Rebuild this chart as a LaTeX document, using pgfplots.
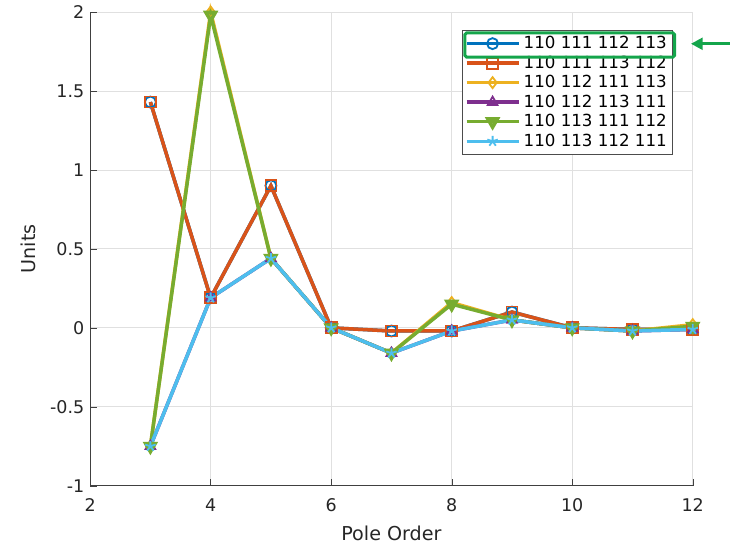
\documentclass[border=0pt]{standalone}
\usepackage{fontspec}
\setmainfont{DejaVu Sans}
\usepackage{pgfplots}
\pgfplotsset{compat=1.18}
\usetikzlibrary{arrows.meta}

\definecolor{mblue}{rgb}{0,0.447,0.741}
\definecolor{morange}{rgb}{0.85,0.325,0.098}
\definecolor{myellow}{rgb}{0.929,0.694,0.125}
\definecolor{mpurple}{rgb}{0.494,0.184,0.556}
\definecolor{mgreen}{rgb}{0.466,0.674,0.188}
\definecolor{mcyan}{rgb}{0.301,0.745,0.933}
\definecolor{annot}{RGB}{20,165,75}

\begin{document}
\begin{tikzpicture}
\begin{axis}[
    scale only axis,
    width=361.8pt, height=284.4pt,
    xmin=2, xmax=12, ymin=-1, ymax=2,
    xtick={2,4,...,12},
    ytick={-1,-0.5,0,0.5,1,1.5,2},
    axis x line*=bottom, axis y line*=left,
    axis line style={color=black!75, line width=0.5pt, -},
    tick align=inside,
    major tick length=4pt,
    tick style={color=black!75},
    grid=major,
    grid style={color=black!12, line width=0.5pt},
    font=\fontsize{10.5}{12}\selectfont,
    ticklabel style={font=\fontsize{10.5}{12}\selectfont, color=black!85},
    xticklabel style={yshift=-4pt},
    /pgf/number format/assume math mode=true,
    xlabel={Pole Order}, ylabel={Units},
    label style={font=\fontsize{11.5}{13}\selectfont, color=black!85},
    ylabel style={yshift=2pt},
    xlabel style={yshift=-2pt},
    clip=false,
    every axis plot/.append style={line width=2.1pt, mark size=3.3pt, mark options={solid, line width=1.1pt, fill=none}},
    legend cell align=left,
    legend style={at={(0.617,0.962)}, anchor=north west, draw=black!70,
        font=\fontsize{10}{11.5}\selectfont, row sep=-1.2pt, inner sep=1.5pt},
    legend image code/.code={
        \draw[mark repeat=2, mark phase=2] plot coordinates {(0cm,0cm) (0.55cm,0cm) (1.1cm,0cm)};
    },
]
\addplot[color=mblue, mark=o] coordinates {
    (3,1.43) (4,0.19) (5,0.90) (6,0) (7,-0.02) (8,-0.02) (9,0.10) (10,0) (11,-0.01) (12,-0.01)
};
\addlegendentry{110 111 112 113}
\addplot[color=morange, mark=square] coordinates {
    (3,1.43) (4,0.19) (5,0.90) (6,0) (7,-0.02) (8,-0.02) (9,0.10) (10,0) (11,-0.01) (12,-0.01)
};
\addlegendentry{110 111 113 112}
\addplot[color=myellow, mark=diamond] coordinates {
    (3,-0.75) (4,2.00) (5,0.44) (6,0) (7,-0.16) (8,0.16) (9,0.05) (10,0) (11,-0.02) (12,0.02)
};
\addlegendentry{110 112 111 113}
\addplot[color=mpurple, mark=triangle] coordinates {
    (3,-0.75) (4,0.19) (5,0.44) (6,0) (7,-0.16) (8,-0.02) (9,0.05) (10,0) (11,-0.02) (12,-0.01)
};
\addlegendentry{110 112 113 111}
\addplot[color=mgreen, mark=triangle, mark options={rotate=180}] coordinates {
    (3,-0.75) (4,1.98) (5,0.44) (6,0) (7,-0.16) (8,0.15) (9,0.05) (10,0) (11,-0.02) (12,0.01)
};
\addlegendentry{110 113 111 112}
\addplot[color=mcyan, mark=star] coordinates {
    (3,-0.75) (4,0.19) (5,0.44) (6,0) (7,-0.16) (8,-0.02) (9,0.05) (10,0) (11,-0.02) (12,-0.01)
};
\addlegendentry{110 113 112 111}

\coordinate (boxA) at (rel axis cs:0.622,0.956);
\coordinate (boxB) at (rel axis cs:0.970,0.905);
\coordinate (arrA) at (rel axis cs:1.061,0.933);
\coordinate (arrB) at (rel axis cs:0.997,0.933);
\end{axis}
\draw[annot, line width=1.8pt, rounded corners=1pt] (boxA) rectangle (boxB);
\draw[annot, line width=1.8pt, -{Triangle[length=7pt,width=7pt]}] (arrA) -- (arrB);
\path ([xshift=-9pt]current bounding box.south west);
\end{tikzpicture}
\end{document}
